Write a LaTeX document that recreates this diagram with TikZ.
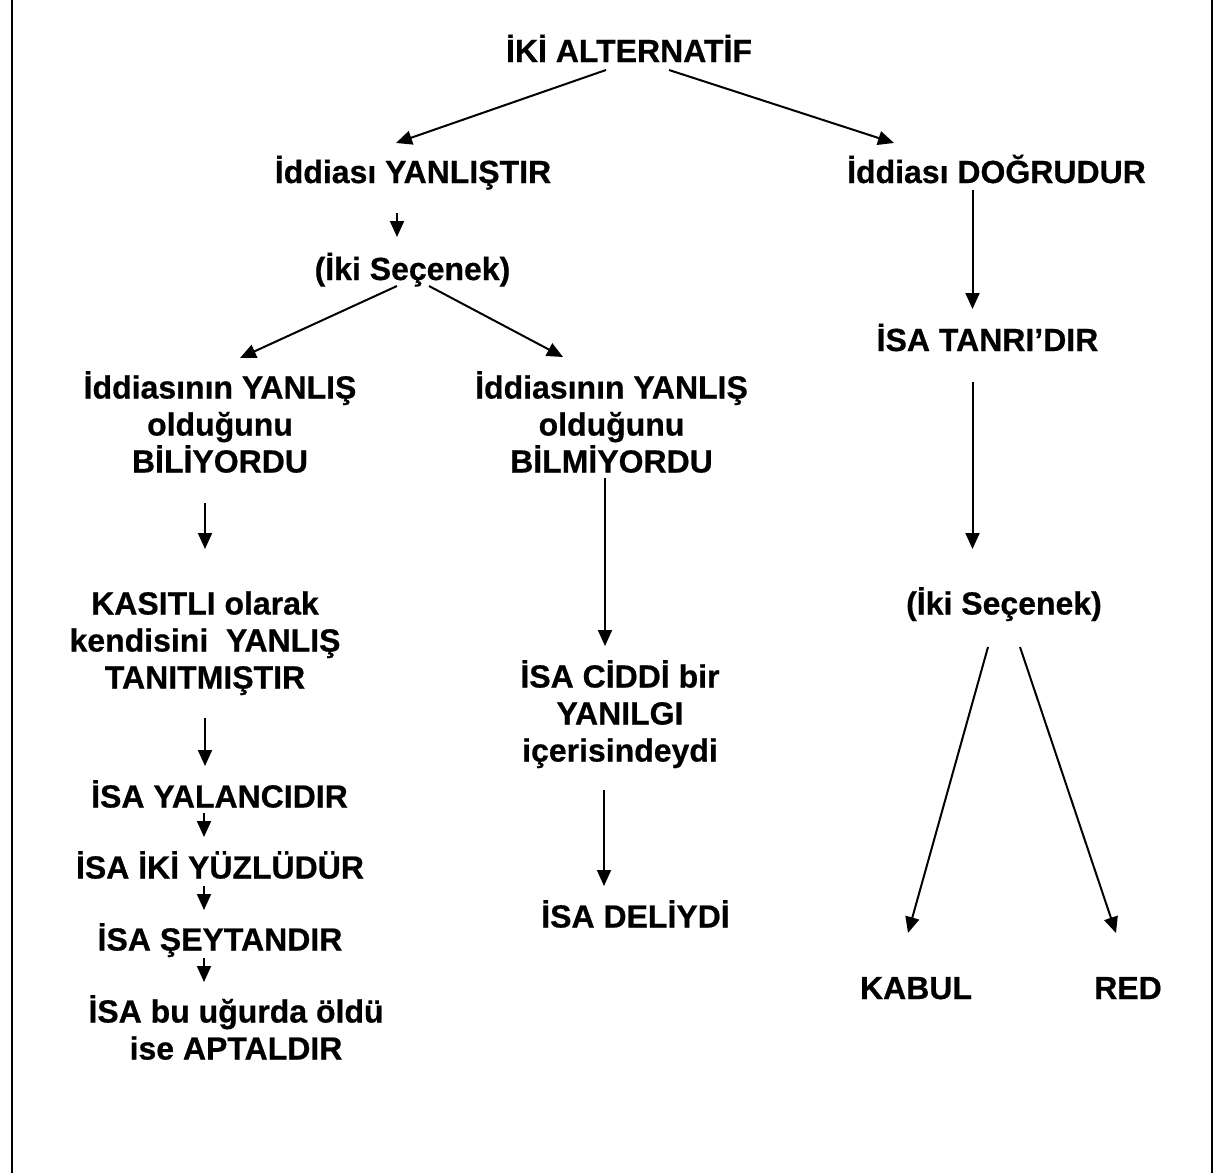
\documentclass[tikz,border=0pt]{standalone}
\usepackage{fontspec}
\setmainfont{Liberation Sans}[BoldFeatures={FakeBold=0.6}]
\usetikzlibrary{arrows.meta}
\newcommand\lstrut{\rule[-7pt]{0pt}{37pt}}
\begin{document}
\begin{tikzpicture}[x=1pt,y=-1pt,
  lbl/.style={inner sep=0pt, outer sep=0pt, align=center, font=\bfseries\fontsize{32}{37}\selectfont},
  arr/.style={line width=2pt, -{Triangle[length=16pt,width=14pt]}},
  border/.style={line width=2pt}]
\fill[white] (0,0) rectangle (1214,1173);
\useasboundingbox (0,0) rectangle (1214,1173);
\draw[border] (12,0) -- (12,1173);
\draw[border] (1212,0) -- (1212,1173);

\node[lbl] (top)   at (629,50.5)   {\lstrut İKİ ALTERNATİF};
\node[lbl] (yl)    at (413,171.5)  {\lstrut İddiası YANLIŞTIR};
\node[lbl] (dg)    at (996.5,171.5){\lstrut İddiası DOĞRUDUR};
\node[lbl] (s1)    at (412.5,268.5){\lstrut (İki Seçenek)};
\node[lbl] (bil)   at (220,424)    {\lstrut İddiasının YANLIŞ\\\lstrut olduğunu\\\lstrut BİLİYORDU};
\node[lbl] (bilm)  at (611.5,424)  {\lstrut İddiasının YANLIŞ\\\lstrut olduğunu\\\lstrut BİLMİYORDU};
\node[lbl] (tanri) at (987.5,339.5){\lstrut İSA TANRI’DIR};
\node[lbl] (kas)   at (205,640)    {\lstrut KASITLI olarak\\\lstrut kendisini\ \ YANLIŞ\\\lstrut TANITMIŞTIR};
\node[lbl] (cid)   at (620,713)    {\lstrut İSA CİDDİ bir\\\lstrut YANILGI\\\lstrut içerisindeydi};
\node[lbl] (s2)    at (1004,603)   {\lstrut (İki Seçenek)};
\node[lbl] (yal)   at (219.5,796)  {\lstrut İSA YALANCIDIR};
\node[lbl] (iki)   at (220,867)    {\lstrut İSA İKİ YÜZLÜDÜR};
\node[lbl] (sey)   at (220,939)    {\lstrut İSA ŞEYTANDIR};
\node[lbl] (apt)   at (236,1029.5) {\lstrut İSA bu uğurda öldü\\\lstrut ise APTALDIR};
\node[lbl] (deli)  at (635.5,916)  {\lstrut İSA DELİYDİ};
\node[lbl] (kabul) at (916,987.5)  {\lstrut KABUL};
\node[lbl] (red)   at (1128,987.5) {\lstrut RED};

\draw[arr] ([xshift=-23pt,yshift=-19.5pt]top.center) -- ([xshift=-17pt,yshift=28.5pt]yl.center);
\draw[arr] ([xshift=40pt,yshift=-19.5pt]top.center) -- ([xshift=-102.5pt,yshift=28.5pt]dg.center);
\draw[arr] ([xshift=-16pt,yshift=-41.5pt]yl.center) -- ([xshift=-15.5pt,yshift=31.5pt]s1.center);
\draw[arr] ([xshift=-15.5pt,yshift=-17.5pt]s1.center) -- ([xshift=20pt,yshift=66pt]bil.center);
\draw[arr] ([xshift=16.5pt,yshift=-17.5pt]s1.center) -- ([xshift=-48.5pt,yshift=67pt]bilm.center);
\draw[arr] ([xshift=-24pt,yshift=-18.5pt]dg.center) -- ([xshift=-15pt,yshift=30.5pt]tanri.center);
\draw[arr] ([xshift=-15pt,yshift=-79pt]bil.center) -- ([xshift=0pt,yshift=91pt]kas.center);
\draw[arr] ([xshift=-6.5pt,yshift=-54pt]bilm.center) -- ([xshift=-15pt,yshift=67pt]cid.center);
\draw[arr] ([xshift=-15pt,yshift=-42.5pt]tanri.center) -- ([xshift=-31.5pt,yshift=54pt]s2.center);
\draw[arr] ([xshift=0pt,yshift=-78pt]kas.center) -- ([xshift=-14.5pt,yshift=30pt]yal.center);
\draw[arr] ([xshift=-15.5pt,yshift=-17pt]yal.center) -- ([xshift=-16pt,yshift=30pt]iki.center);
\draw[arr] ([xshift=-16pt,yshift=-19pt]iki.center) -- ([xshift=-16pt,yshift=29pt]sey.center);
\draw[arr] ([xshift=-16pt,yshift=-19pt]sey.center) -- ([xshift=-32pt,yshift=47.5pt]apt.center);
\draw[arr] ([xshift=-16pt,yshift=-77pt]cid.center) -- ([xshift=-31.5pt,yshift=30pt]deli.center);
\draw[arr] ([xshift=-16pt,yshift=-44pt]s2.center) -- ([xshift=-8pt,yshift=54.5pt]kabul.center);
\draw[arr] ([xshift=16pt,yshift=-44pt]s2.center) -- ([xshift=-12pt,yshift=54.5pt]red.center);
\end{tikzpicture}
\end{document}
